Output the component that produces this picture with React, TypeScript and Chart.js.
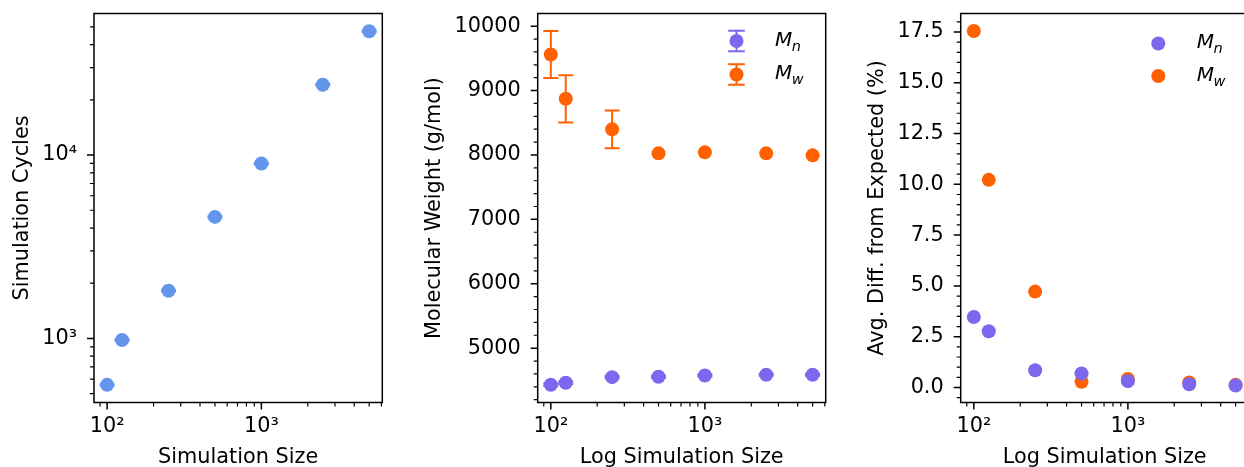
import React, { useEffect, useRef } from "react";
import { Chart, registerables } from "chart.js";
Chart.register(...registerables);

const FONT = "'DejaVu Sans', 'Noto Sans', sans-serif";
const FS = 20.8;

// ---------- data ----------
const simSizes = [100, 125, 250, 500, 1000, 2500, 5000];
const simCycles = [558, 980, 1820, 4600, 9000, 24200, 47400];
const simCyclesErr = [5, 9, 16, 40, 80, 210, 420];

const mnWeight = [4431, 4462, 4550, 4555, 4576, 4586, 4586];
const mnWeightErr = [20, 20, 15, 15, 15, 15, 15];
const mwWeight = [9561, 8872, 8398, 8025, 8041, 8025, 7994];
const mwWeightErr = [365, 367, 292, 0, 0, 0, 0];

const mnDiff = [3.47, 2.77, 0.85, 0.69, 0.31, 0.16, 0.1];
const mwDiff = [17.55, 10.22, 4.72, 0.28, 0.42, 0.25, 0.13];

const xMajorTicks = [100, 1000];
const xTickLabels = ["10²", "10³"];
const cyclesMajorTicks = [1000, 10000];
const cyclesTickLabels = ["10³", "10⁴"];
const weightMajorTicks = [5000, 6000, 7000, 8000, 9000, 10000];
const weightTickLabels = ["5000", "6000", "7000", "8000", "9000", "10000"];
const diffMajorTicks = [0, 2.5, 5, 7.5, 10, 12.5, 15, 17.5];
const diffTickLabels = ["0.0", "2.5", "5.0", "7.5", "10.0", "12.5", "15.0", "17.5"];

const COLOR_CYCLES = "#6495ED";
const COLOR_MN = "#7B68EE";
const COLOR_MW = "#FF6000";

// ---------- axis helpers ----------
function logMinors(min: number, max: number) {
  const out: number[] = [];
  for (let e = Math.floor(Math.log10(min)); e <= Math.ceil(Math.log10(max)); e++) {
    for (let m = 2; m <= 9; m++) {
      const v = m * Math.pow(10, e);
      if (v >= min && v <= max) out.push(v);
    }
  }
  return out;
}
function linMinors(min: number, max: number, step: number, major: number) {
  const out: number[] = [];
  const start = Math.ceil(min / step);
  const end = Math.floor(max / step);
  for (let k = start; k <= end; k++) {
    const v = k * step;
    const r = v / major;
    if (Math.abs(r - Math.round(r)) > 1e-6) out.push(v);
  }
  return out;
}

const X_MIN = 82.2;
const X_MAX = 6081;
const R = 7;

type Series = { label: string; values: number[]; errors?: number[]; color: string };
type LegendRow = { color: string; main: string; sub: string; err: boolean; dy: number };
type PanelCfg = {
  left: number;
  width: number;
  yAxisWidth: number;
  padRight: number;
  yTitle: string;
  yTitlePad: number;
  xTitle: string;
  yType: "logarithmic" | "linear";
  yMin: number;
  yMax: number;
  yMajors: number[];
  yLabels: string[];
  yMinors: number[];
  series: Series[];
  legend?: { markerDx: number; textDx: number; rows: LegendRow[] };
};

function decorPlugin(cfg: PanelCfg) {
  return {
    id: "decor",
    beforeDatasetsDraw(chart: any) {
      const ctx = chart.ctx;
      const ys = chart.scales.y;
      chart.data.datasets.forEach((ds: any, i: number) => {
        if (!ds.errors) return;
        const meta = chart.getDatasetMeta(i);
        ctx.save();
        ctx.strokeStyle = ds.borderColor;
        ctx.lineWidth = 2;
        meta.data.forEach((pt: any, j: number) => {
          const v = ds.data[j].y;
          const e = ds.errors[j];
          if (!e) return;
          const y1 = ys.getPixelForValue(v + e);
          const y2 = ys.getPixelForValue(v - e);
          const x = pt.x;
          ctx.beginPath();
          ctx.moveTo(x, y1);
          ctx.lineTo(x, y2);
          ctx.moveTo(x - 7.5, y1);
          ctx.lineTo(x + 7.5, y1);
          ctx.moveTo(x - 7.5, y2);
          ctx.lineTo(x + 7.5, y2);
          ctx.stroke();
        });
        ctx.restore();
      });
    },
    afterDraw(chart: any) {
      const ctx = chart.ctx;
      const a = chart.chartArea;
      const xs = chart.scales.x;
      const ys = chart.scales.y;
      ctx.save();
      ctx.strokeStyle = "#000";
      ctx.lineWidth = 1.5;
      ctx.strokeRect(a.left, a.top, a.right - a.left, a.bottom - a.top);
      const xMinor = logMinors(X_MIN, X_MAX);
      const drawX = (vals: number[], len: number, lw: number) => {
        ctx.lineWidth = lw;
        ctx.beginPath();
        vals.forEach((v) => {
          const p = xs.getPixelForValue(v);
          ctx.moveTo(p, a.bottom);
          ctx.lineTo(p, a.bottom + len);
        });
        ctx.stroke();
      };
      const drawY = (vals: number[], len: number, lw: number) => {
        ctx.lineWidth = lw;
        ctx.beginPath();
        vals.forEach((v) => {
          const p = ys.getPixelForValue(v);
          ctx.moveTo(a.left, p);
          ctx.lineTo(a.left - len, p);
        });
        ctx.stroke();
      };
      drawX(xMajorTicks, 7, 1.5);
      drawX(xMinor, 4, 1.2);
      drawY(cfg.yMajors, 7, 1.5);
      drawY(cfg.yMinors, 4, 1.2);
      if (cfg.legend) {
        const lg = cfg.legend;
        lg.rows.forEach((r) => {
          const mx = a.right + lg.markerDx;
          const my = a.top + r.dy;
          if (r.err) {
            ctx.strokeStyle = r.color;
            ctx.lineWidth = 2;
            ctx.beginPath();
            ctx.moveTo(mx, my - 10.3);
            ctx.lineTo(mx, my + 10.3);
            ctx.moveTo(mx - 8.3, my - 10.3);
            ctx.lineTo(mx + 8.3, my - 10.3);
            ctx.moveTo(mx - 8.3, my + 10.3);
            ctx.lineTo(mx + 8.3, my + 10.3);
            ctx.stroke();
          }
          ctx.fillStyle = r.color;
          ctx.beginPath();
          ctx.arc(mx, my, R, 0, Math.PI * 2);
          ctx.fill();
          const tx = a.right + lg.textDx;
          const base = my + 4.6;
          ctx.fillStyle = "#000";
          ctx.textBaseline = "alphabetic";
          ctx.textAlign = "left";
          ctx.font = `italic 20px ${FONT}`;
          ctx.fillText(r.main, tx, base);
          const w = ctx.measureText(r.main).width;
          ctx.font = `italic 14.5px ${FONT}`;
          ctx.fillText(r.sub, tx + w - 0.5, base + 5);
        });
      }
      ctx.restore();
    },
  };
}

function buildConfig(cfg: PanelCfg): any {
  const tickFont = { family: FONT, size: FS };
  const titleFont = { family: FONT, size: FS, lineHeight: 1 };
  return {
    type: "scatter",
    data: {
      datasets: cfg.series.map((s) => ({
        label: s.label,
        data: simSizes.map((x, i) => ({ x, y: s.values[i] })),
        errors: s.errors,
        backgroundColor: s.color,
        borderColor: s.color,
        borderWidth: 0,
        pointRadius: R,
        pointHoverRadius: R,
      })),
    },
    options: {
      responsive: false,
      animation: false,
      events: [],
      layout: { padding: { left: 0, top: 13.5, right: cfg.padRight, bottom: 0 } },
      plugins: { legend: { display: false }, tooltip: { enabled: false } },
      scales: {
        x: {
          type: "logarithmic",
          min: X_MIN,
          max: X_MAX,
          afterBuildTicks: (s: any) => {
            s.ticks = xMajorTicks.map((v) => ({ value: v }));
          },
          afterFit: (s: any) => {
            s.height = 64.5;
            s.paddingLeft = 0;
            s.paddingRight = 0;
          },
          ticks: {
            callback: (v: number) => xTickLabels[xMajorTicks.indexOf(v)] ?? "",
            font: tickFont,
            color: "#000",
            padding: 4,
            autoSkip: false,
            maxRotation: 0,
            minRotation: 0,
          },
          grid: { display: false },
          border: { display: false },
          title: {
            display: true,
            text: cfg.xTitle,
            font: titleFont,
            color: "#000",
            padding: { top: 0, bottom: -1.5 },
          },
        },
        y: {
          type: cfg.yType,
          min: cfg.yMin,
          max: cfg.yMax,
          afterBuildTicks: (s: any) => {
            s.ticks = cfg.yMajors.map((v) => ({ value: v }));
          },
          afterFit: (s: any) => {
            s.width = cfg.yAxisWidth;
            s.paddingTop = 0;
            s.paddingBottom = 0;
          },
          ticks: {
            callback: (v: number) => {
              const i = cfg.yMajors.findIndex((m) => Math.abs(m - v) < 1e-9);
              return i >= 0 ? cfg.yLabels[i] : "";
            },
            font: tickFont,
            color: "#000",
            padding: 9,
            autoSkip: false,
          },
          grid: { display: false },
          border: { display: false },
          title: {
            display: true,
            text: cfg.yTitle,
            font: titleFont,
            color: "#000",
            padding: { top: cfg.yTitlePad, bottom: 0 },
          },
        },
      },
    },
    plugins: [decorPlugin(cfg)],
  };
}

const panels: PanelCfg[] = [
  {
    left: 0,
    width: 400,
    yAxisWidth: 94,
    padRight: 17.7,
    yTitle: "Simulation Cycles",
    yTitlePad: 12.5,
    xTitle: "Simulation Size",
    yType: "logarithmic",
    yMin: 447,
    yMax: 59200,
    yMajors: cyclesMajorTicks,
    yLabels: cyclesTickLabels,
    yMinors: logMinors(447, 59200),
    series: [{ label: "Cycles", values: simCycles, errors: simCyclesErr, color: COLOR_CYCLES }],
  },
  {
    left: 420,
    width: 420,
    yAxisWidth: 117.7,
    padRight: 14.3,
    yTitle: "Molecular Weight (g/mol)",
    yTitlePad: 4.5,
    xTitle: "Log Simulation Size",
    yType: "linear",
    yMin: 4156,
    yMax: 10197,
    yMajors: weightMajorTicks,
    yLabels: weightTickLabels,
    yMinors: linMinors(4156, 10197, 200, 1000),
    series: [
      { label: "Mn", values: mnWeight, errors: mnWeightErr, color: COLOR_MN },
      { label: "Mw", values: mwWeight, errors: mwWeightErr, color: COLOR_MW },
    ],
    legend: {
      markerDx: -89.2,
      textDx: -50.7,
      rows: [
        { color: COLOR_MN, main: "M", sub: "n", err: true, dy: 27.5 },
        { color: COLOR_MW, main: "M", sub: "w", err: true, dy: 61 },
      ],
    },
  },
  {
    left: 840,
    width: 420,
    yAxisWidth: 120.7,
    padRight: 11.3,
    yTitle: "Avg. Diff. from Expected (%)",
    yTitlePad: 26.8,
    xTitle: "Log Simulation Size",
    yType: "linear",
    yMin: -0.74,
    yMax: 18.41,
    yMajors: diffMajorTicks,
    yLabels: diffTickLabels,
    yMinors: linMinors(-0.74, 18.41, 0.5, 2.5),
    series: [
      { label: "Mn", values: mnDiff, color: COLOR_MN },
      { label: "Mw", values: mwDiff, color: COLOR_MW },
    ],
    legend: {
      markerDx: -90.4,
      textDx: -52,
      rows: [
        { color: COLOR_MN, main: "M", sub: "n", err: false, dy: 30 },
        { color: COLOR_MW, main: "M", sub: "w", err: false, dy: 62.5 },
      ],
    },
  },
];

function Panel({ cfg }: { cfg: PanelCfg }) {
  const ref = useRef<HTMLCanvasElement>(null);
  useEffect(() => {
    const chart = new Chart(ref.current as HTMLCanvasElement, buildConfig(cfg));
    return () => chart.destroy();
  }, [cfg]);
  return (
    <canvas
      ref={ref}
      width={cfg.width}
      height={467}
      style={{ position: "absolute", left: cfg.left, top: 0, width: cfg.width, height: 467 }}
    />
  );
}

export default function App() {
  useEffect(() => {
    document.body.style.margin = "0";
    document.body.style.overflow = "hidden";
  }, []);
  return (
    <div
      style={{
        position: "absolute",
        left: 0,
        top: 0,
        width: 1244,
        height: 467,
        overflow: "hidden",
        background: "#fff",
      }}
    >
      {panels.map((p, i) => (
        <Panel key={i} cfg={p} />
      ))}
    </div>
  );
}
